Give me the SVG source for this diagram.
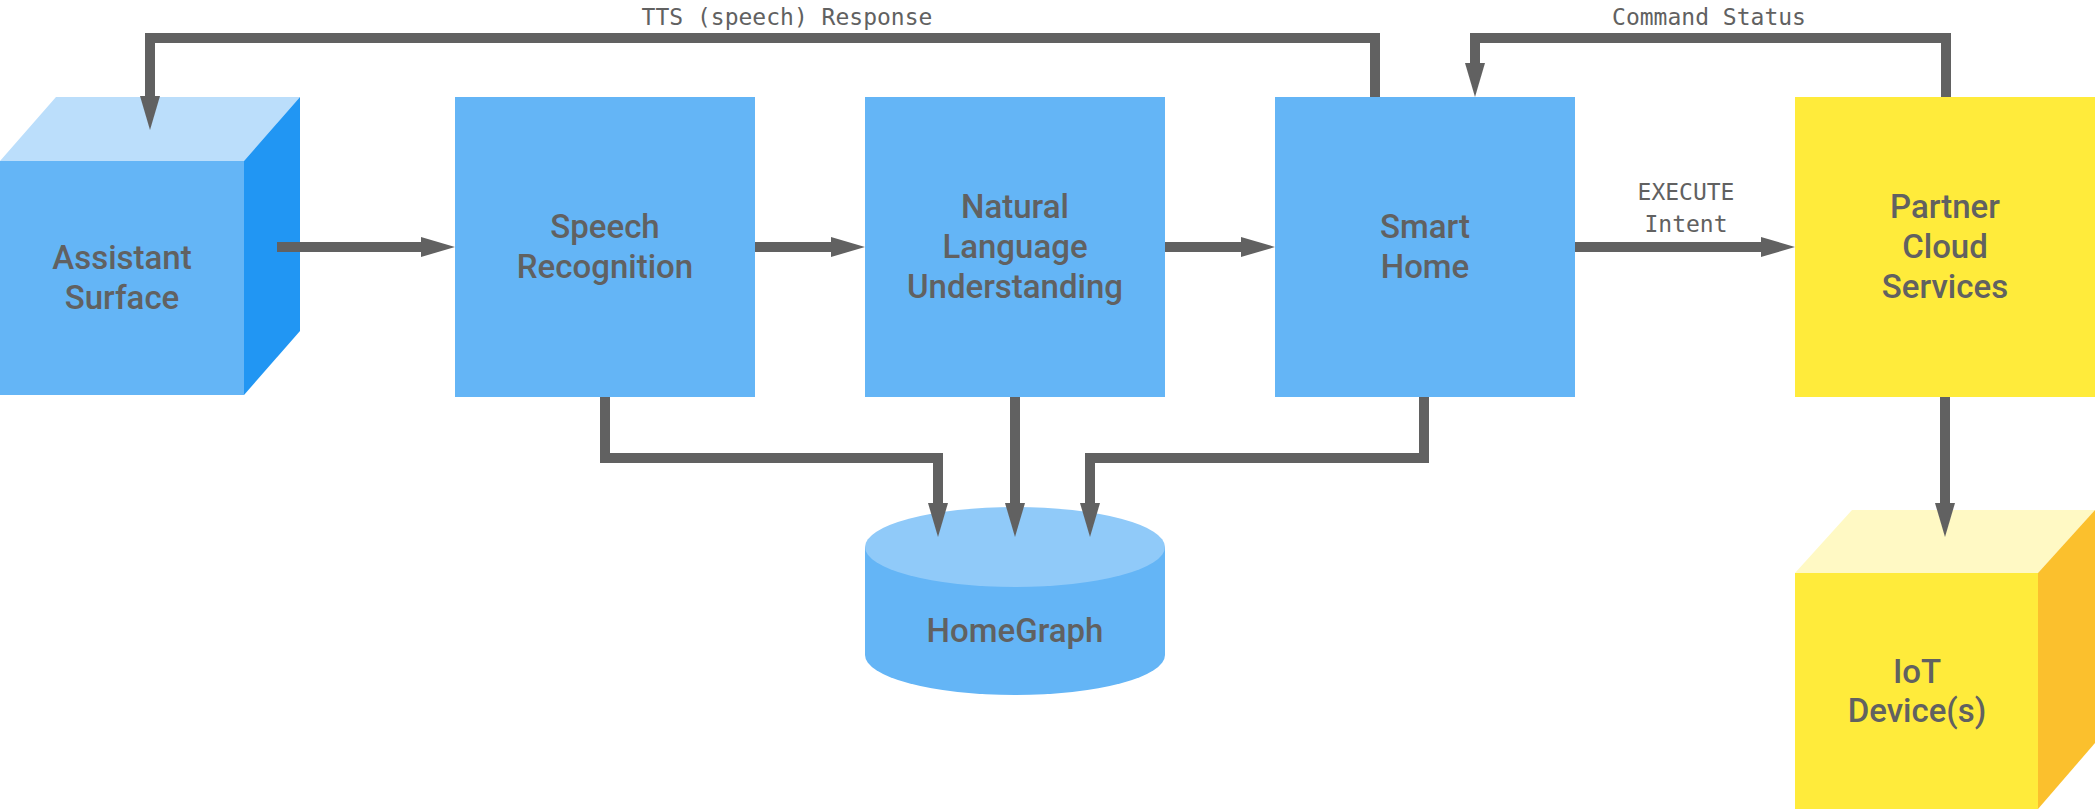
<svg xmlns="http://www.w3.org/2000/svg" width="2095" height="809" viewBox="0 0 2095 809">
<style>
.lbl{font-family:Roboto,"Liberation Sans",sans-serif;font-size:33px;font-weight:500;fill:#616161;text-anchor:middle}
.mono{font-family:"DejaVu Sans Mono","Liberation Mono",monospace;font-size:23px;fill:#616161;text-anchor:middle}
.conn{fill:none;stroke:#616161;stroke-width:10;stroke-linejoin:miter;stroke-linecap:butt}
.blue{fill:#64B5F6}
.yellow{fill:#FFEB3B}
</style>
<defs>
<marker id="ah" markerUnits="userSpaceOnUse" markerWidth="34" markerHeight="20" refX="0" refY="10" orient="auto" viewBox="0 0 34 20">
<path d="M0,0 L34,10 L0,20 Z" fill="#616161"/>
</marker>
</defs>
<rect width="2095" height="809" fill="#ffffff"/>

<g id="assistant-surface">
<polygon points="0,161 56,97 300,97 244,161" fill="#BBDEFB"/>
<polygon points="244,161 300,97 300,331 244,395" fill="#2196F3"/>
<rect x="0" y="161" width="244" height="234" class="blue"/>
<text class="lbl" x="122" y="269">Assistant</text>
<text class="lbl" x="122" y="309">Surface</text>
</g>

<g id="speech-recognition">
<rect x="455" y="97" width="300" height="300" class="blue"/>
<text class="lbl" x="605" y="238">Speech</text>
<text class="lbl" x="605" y="278">Recognition</text>
</g>

<g id="nlu">
<rect x="865" y="97" width="300" height="300" class="blue"/>
<text class="lbl" x="1015" y="218">Natural</text>
<text class="lbl" x="1015" y="258">Language</text>
<text class="lbl" x="1015" y="298">Understanding</text>
</g>

<g id="smart-home">
<rect x="1275" y="97" width="300" height="300" class="blue"/>
<text class="lbl" x="1425" y="238">Smart</text>
<text class="lbl" x="1425" y="278">Home</text>
</g>

<g id="partner-cloud">
<rect x="1795" y="97" width="300" height="300" class="yellow"/>
<text class="lbl" x="1945" y="218">Partner</text>
<text class="lbl" x="1945" y="258">Cloud</text>
<text class="lbl" x="1945" y="298">Services</text>
</g>

<g id="homegraph">
<path d="M865,547 V655 A150,40 0 0 0 1165,655 V547 Z" fill="#64B5F6"/>
<ellipse cx="1015" cy="547" rx="150" ry="40" fill="#90CAF9"/>
<text class="lbl" x="1015" y="642">HomeGraph</text>
</g>

<g id="iot-devices">
<polygon points="1795,573 1852,510 2095,510 2038,573" fill="#FFF9C4"/>
<polygon points="2038,573 2095,510 2095,743 2038,809" fill="#FBC02D"/>
<rect x="1795" y="573" width="243" height="236" class="yellow"/>
<text class="lbl" x="1917" y="683">IoT</text>
<text class="lbl" x="1917" y="722">Device(s)</text>
</g>

<g id="connectors">
<path class="conn" d="M277,247 H421" marker-end="url(#ah)"/>
<path class="conn" d="M755,247 H831" marker-end="url(#ah)"/>
<path class="conn" d="M1165,247 H1241" marker-end="url(#ah)"/>
<path class="conn" d="M1575,247 H1761" marker-end="url(#ah)"/>
<path class="conn" d="M1375,97 V38 H150 V96" marker-end="url(#ah)"/>
<path class="conn" d="M1946,97 V38 H1475 V63" marker-end="url(#ah)"/>
<path class="conn" d="M605,397 V458 H938 V503" marker-end="url(#ah)"/>
<path class="conn" d="M1015,397 V503" marker-end="url(#ah)"/>
<path class="conn" d="M1424,397 V458 H1090 V503" marker-end="url(#ah)"/>
<path class="conn" d="M1945,397 V503" marker-end="url(#ah)"/>
<text class="mono" x="787" y="25">TTS (speech) Response</text>
<text class="mono" x="1709" y="25">Command Status</text>
<text class="mono" x="1686" y="200">EXECUTE</text>
<text class="mono" x="1686" y="232">Intent</text>
</g>
</svg>
